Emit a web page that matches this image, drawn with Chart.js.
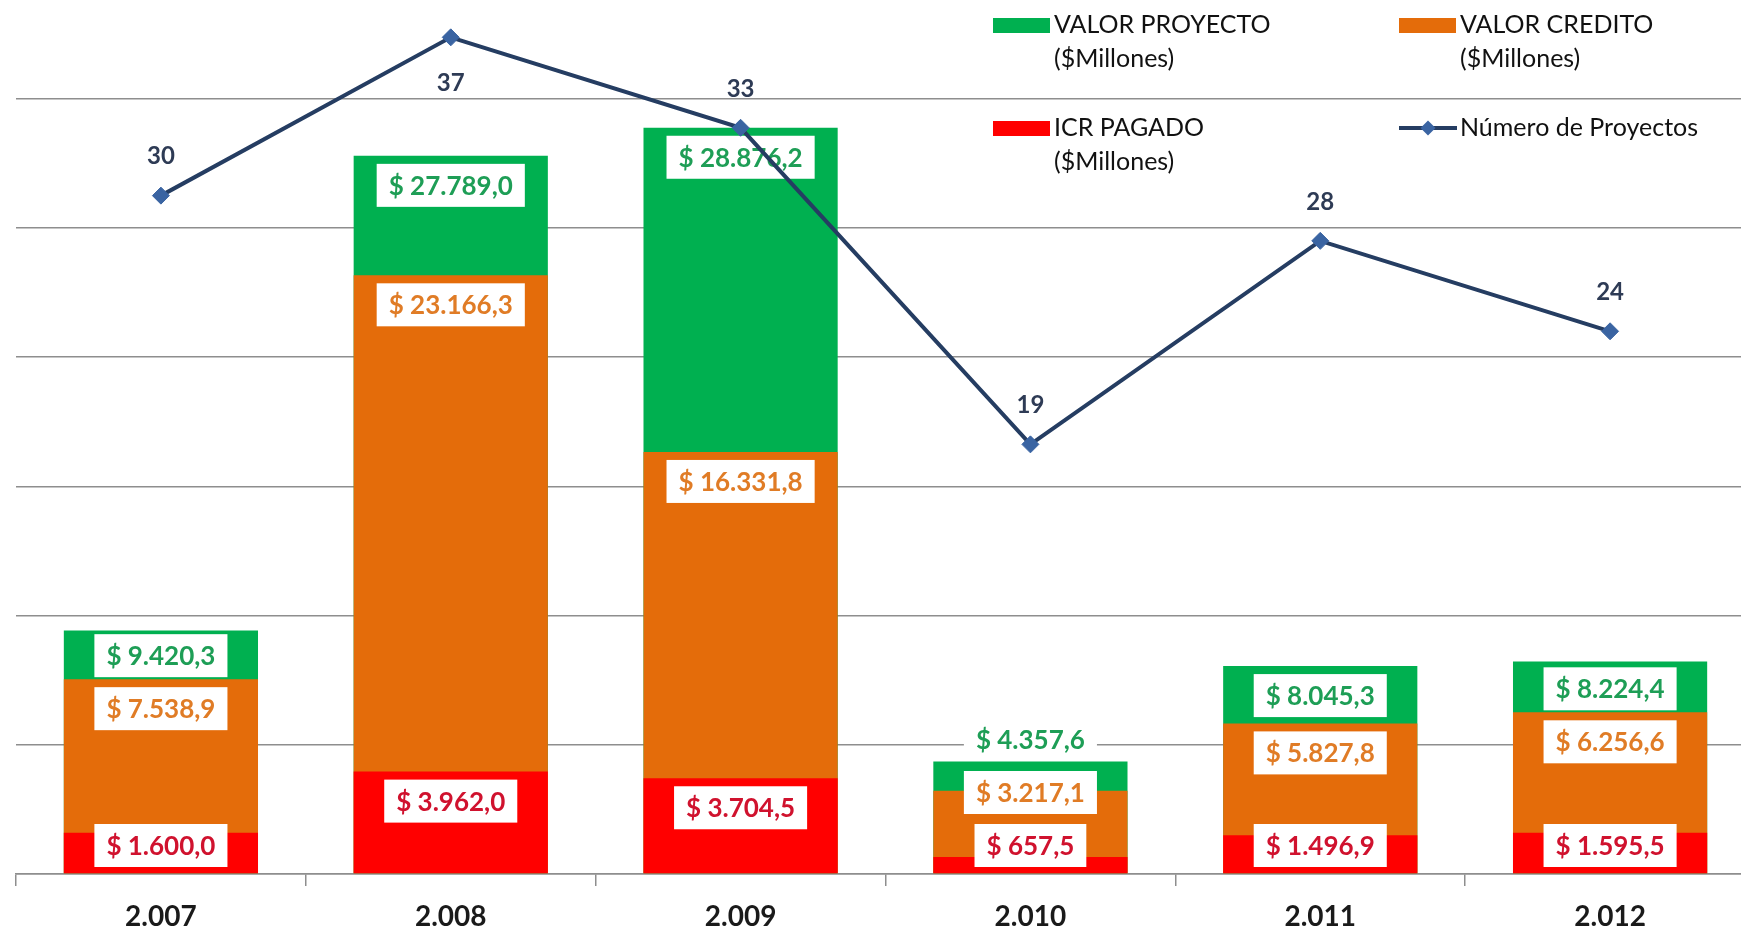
<!DOCTYPE html>
<html><head><meta charset="utf-8">
<script src="https://cdn.jsdelivr.net/npm/chart.js@4"></script>
<style>
html,body{margin:0;padding:0;background:#fff;overflow:hidden;width:1741px;height:931px;position:relative;}
#wrap{position:absolute;left:0;top:-40px;width:1771px;height:971px;}
</style></head><body>
<div id="wrap"><canvas id="c"></canvas></div>
<script>
// ---- data ----
const categories = ['2.007', '2.008', '2.009', '2.010', '2.011', '2.012'];
const valorProyecto = [9420.3, 27789.0, 28876.2, 4357.6, 8045.3, 8224.4];
const valorCredito = [7538.9, 23166.3, 16331.8, 3217.1, 5827.8, 6256.6];
const icrPagado = [1600.0, 3962.0, 3704.5, 657.5, 1496.9, 1595.5];
const numeroProyectos = [30, 37, 33, 19, 28, 24];
const legendProyecto = ['VALOR PROYECTO', '($Millones)'];
const legendCredito = ['VALOR CREDITO', '($Millones)'];
const legendIcr = ['ICR PAGADO', '($Millones)'];
const legendNumero = ['Número de Proyectos'];

const TOP_OFF = 40; // canvas is shifted up by this amount
const GREEN = '#00B050', ORANGE = '#E46C0A', RED = '#FF0000';
const GRID = '#8e8e8e';

function fmtMoney(v) {
  const parts = v.toFixed(1).split('.');
  const intPart = parts[0].replace(/\B(?=(\d{3})+(?!\d))/g, '.');
  return '$ ' + intPart + ',' + parts[1];
}

const barLabelsPlugin = {
  id: 'barLabels',
  afterDatasetDraw(chart, args) {
    if (args.index !== 2) return;
    const ctx = chart.ctx;
    const base = chart.scales.y.getPixelForValue(0);
    const seq = [2, 1, 0];
    ctx.save();
    ctx.font = 'bold 26px Lato';
    ctx.textAlign = 'center';
    ctx.textBaseline = 'middle';
    const n = chart.data.labels.length;
    for (let i = 0; i < n; i++) {
      let prevY = null;
      seq.forEach(k => {
        const ds = chart.data.datasets[k];
        const bar = chart.getDatasetMeta(k).data[i];
        const top = bar.y;
        let y = Math.min(top + 29.5, base - 28.5);
        if (prevY !== null) y = Math.min(y, prevY - 53);
        prevY = y;
        const txt = fmtMoney(ds.data[i]);
        const w = ctx.measureText(txt).width + 24;
        const h = 43;
        ctx.fillStyle = '#ffffff';
        ctx.fillRect(bar.x - w / 2, y - h / 2, w, h);
        ctx.fillStyle = ds.labelColor;
        ctx.fillText(txt, bar.x, y + 1);
      });
    }
    ctx.restore();
  },
  afterDatasetsDraw(chart) {
    const ctx = chart.ctx;
    const meta = chart.getDatasetMeta(3);
    const ds = chart.data.datasets[3];
    ctx.save();
    ctx.font = 'bold 24px Lato';
    ctx.textAlign = 'center';
    ctx.textBaseline = 'middle';
    ctx.fillStyle = '#2E3B55';
    meta.data.forEach((p, i) => {
      let y = p.y - 39;
      if (y - 14 < TOP_OFF) y = p.y + 46;
      ctx.fillText(String(ds.data[i]), p.x, y);
    });
    ctx.restore();
  },
  afterDraw(chart) {
    const ctx = chart.ctx;
    const dss = chart.data.datasets;
    ctx.save();
    ctx.font = '25px Lato';
    ctx.textAlign = 'left';
    ctx.textBaseline = 'middle';
    const items = [
      {ds: dss[0], x: 993, y: 25},
      {ds: dss[1], x: 1399, y: 25},
      {ds: dss[2], x: 993, y: 128},
      {ds: dss[3], x: 1399, y: 128}
    ];
    items.forEach(it => {
      const y = it.y + TOP_OFF;
      if (it.ds.type === 'line') {
        ctx.strokeStyle = it.ds.borderColor;
        ctx.lineWidth = 4;
        ctx.beginPath();
        ctx.moveTo(it.x, y);
        ctx.lineTo(it.x + 58, y);
        ctx.stroke();
        ctx.fillStyle = it.ds.pointBackgroundColor;
        const cx = it.x + 29, r = 7.5;
        ctx.beginPath();
        ctx.moveTo(cx, y - r); ctx.lineTo(cx + r, y); ctx.lineTo(cx, y + r); ctx.lineTo(cx - r, y);
        ctx.closePath();
        ctx.fill();
      } else {
        ctx.fillStyle = it.ds.backgroundColor;
        ctx.fillRect(it.x, y - 7, 57, 15);
      }
      ctx.fillStyle = '#111111';
      it.ds.legendText.forEach((t, j) => {
        ctx.fillText(t, it.x + 61, y + j * 34);
      });
    });
    ctx.restore();
  }
};

new Chart(document.getElementById('c'), {
  data: {
    labels: categories,
    datasets: [
      {type: 'bar', label: 'VALOR PROYECTO ($Millones)', legendText: legendProyecto, data: valorProyecto,
       backgroundColor: GREEN, labelColor: '#1E9E56', order: 3, grouped: false,
       categoryPercentage: 1, barPercentage: 0.67, yAxisID: 'y'},
      {type: 'bar', label: 'VALOR CREDITO ($Millones)', legendText: legendCredito, data: valorCredito,
       backgroundColor: ORANGE, labelColor: '#E07C26', order: 2, grouped: false,
       categoryPercentage: 1, barPercentage: 0.67, yAxisID: 'y'},
      {type: 'bar', label: 'ICR PAGADO ($Millones)', legendText: legendIcr, data: icrPagado,
       backgroundColor: RED, labelColor: '#D0122E', order: 1, grouped: false,
       categoryPercentage: 1, barPercentage: 0.67, yAxisID: 'y'},
      {type: 'line', label: 'Número de Proyectos', legendText: legendNumero, data: numeroProyectos,
       borderColor: '#253D62', borderWidth: 4, tension: 0,
       pointStyle: 'rectRot', pointRadius: 8.5, pointHoverRadius: 8.5,
       pointBackgroundColor: '#3A64A2', pointBorderColor: '#3A64A2', pointBorderWidth: 1,
       order: 0, yAxisID: 'y2'}
    ]
  },
  options: {
    responsive: true,
    maintainAspectRatio: false,
    animation: false,
    devicePixelRatio: 1,
    layout: {padding: {left: 16, right: 16, top: 9, bottom: 0}},
    plugins: {legend: {display: false}, tooltip: {enabled: false}},
    scales: {
      x: {
        type: 'category',
        offset: true,
        grid: {offset: true, drawOnChartArea: false, color: GRID, lineWidth: 1.5, tickLength: 12},
        border: {color: GRID, width: 1.5},
        ticks: {font: {family: 'Lato', weight: 'bold', size: 28}, color: '#1a1a1a', padding: 14},
        afterFit(s) { s.height = 57; }
      },
      y: {
        position: 'left',
        min: 0, max: 35000,
        ticks: {stepSize: 5000, display: false},
        grid: {color: GRID, lineWidth: 1.5, drawTicks: false},
        border: {display: false},
        afterFit(s) { s.width = 0; }
      },
      y2: {
        position: 'right',
        min: 0, max: 40,
        display: false
      }
    }
  },
  plugins: [barLabelsPlugin]
});
</script>
</body></html>
